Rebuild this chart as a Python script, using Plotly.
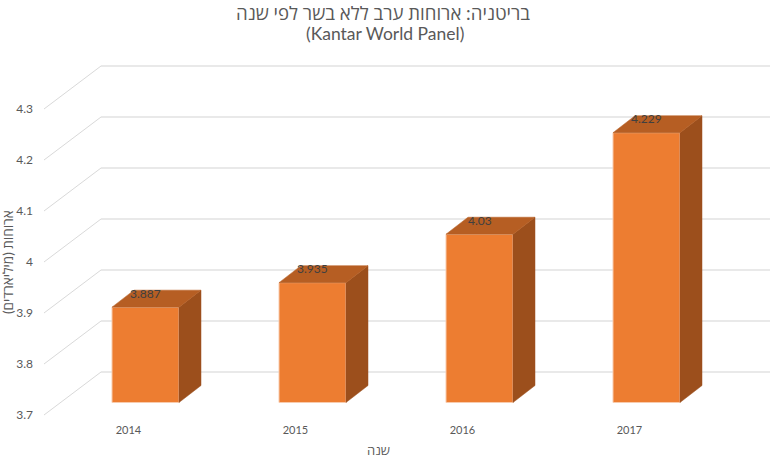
import plotly.graph_objects as go

years = [2014, 2015, 2016, 2017]
values = [3.887, 3.935, 4.03, 4.229]
value_labels = ["3.887", "3.935", "4.03", "4.229"]
y_ticks = [3.7, 3.8, 3.9, 4.0, 4.1, 4.2, 4.3]
y_tick_labels = ["3.7", "3.8", "3.9", "4", "4.1", "4.2", "4.3"]
title_lines = ["בריטניה: ארוחות ערב ללא בשר לפי שנה", "(Kantar World Panel)"]
x_title = "שנה"
y_title = "ארוחות (מיליארדים)"

W, H = 770, 464
L, T, B = 34, 50, 420
PX_X = 167.0      # px per year
PX_Y = 510.0      # px per value unit
X0 = 145.5        # px of first bar centre
Y0 = 402.5        # px of value 3.7
BASE = 3.7
FONT = "Lato, Open Sans, Liberation Sans, sans-serif"
GREY = "#595959"

def xv(px):
    return years[0] + (px - X0) / PX_X
def yv(px):
    return BASE + (Y0 - px) / PX_Y

bar_w = 67 / PX_X
dx, dy = 22 / PX_X, 17 / PX_Y

fig = go.Figure()
fig.add_trace(go.Bar(x=years, y=[v - BASE for v in values], base=BASE, width=bar_w,
                     marker=dict(color="#ED7D31", line=dict(color="#F8CBAD", width=1)),
                     hoverinfo="skip", showlegend=False))

for yr, v in zip(years, values):
    r = yr + bar_w / 2
    l = yr - bar_w / 2
    fig.add_trace(go.Scatter(x=[r, r + dx, r + dx, r, r], y=[BASE, BASE + dy, v + dy, v, BASE],
                             mode="lines", fill="toself", fillcolor="#9C4F1C",
                             line=dict(color="#9C4F1C", width=0.5), hoverinfo="skip", showlegend=False))
    fig.add_trace(go.Scatter(x=[l, l + dx, r + dx, r, l], y=[v, v + dy, v + dy, v, v],
                             mode="lines", fill="toself", fillcolor="#B65E23",
                             line=dict(color="#B65E23", width=0.5), hoverinfo="skip", showlegend=False))

shapes = []
back_off = yv(372) - BASE
front_off = yv(415) - BASE
x_front, x_back, x_right = xv(44), xv(101), xv(W)
for t in y_ticks:
    shapes.append(dict(type="line", layer="below", xref="x", yref="y", x0=x_front, x1=x_back,
                       y0=t + front_off, y1=t + back_off, line=dict(color="#D9D9D9", width=1)))
    shapes.append(dict(type="line", layer="below", xref="x", yref="y", x0=x_back, x1=x_right,
                       y0=t + back_off, y1=t + back_off, line=dict(color="#E2E2E2", width=1.5)))

annotations = []
for yr, v, s in zip(years, values, value_labels):
    annotations.append(dict(x=yr, y=v, xref="x", yref="y", text=s, showarrow=False, xshift=0, yshift=14,
                            font=dict(family=FONT, size=12, color="#404040")))
def paper_x(px):
    return (px - L) / (W - L)
def paper_y(px):
    return (B - px) / (B - T)
def free_text(text, px, py, size, **kw):
    return dict(x=paper_x(px), y=paper_y(py), xref="paper", yref="paper", text=text, showarrow=False,
                xanchor="center", yanchor="middle",
                font=dict(family=FONT, size=size, color=GREY), **kw)
annotations += [
    free_text(title_lines[0], 383, 13, 18.6),
    free_text(title_lines[1], 385, 33, 17.5),
    free_text(x_title, 378, 450, 13),
    free_text(y_title, 8, 262, 13.5, textangle=-90),
]

fig.update_layout(
    width=W, height=H, autosize=False,
    margin=dict(l=L, r=0, t=T, b=H - B, pad=0),
    paper_bgcolor="white", plot_bgcolor="white",
    showlegend=False, shapes=shapes, annotations=annotations,
    xaxis=dict(range=[xv(L), xv(W)], tickvals=years, ticktext=[str(y) for y in years],
               showgrid=False, zeroline=False, showline=False, ticks="", ticklabelshift=-17,
               ticklabelstandoff=2, tickfont=dict(family=FONT, size=11, color=GREY)),
    yaxis=dict(range=[yv(B), yv(T)], tickvals=y_ticks, ticktext=y_tick_labels,
               showgrid=False, zeroline=False, showline=False, ticks="", ticklabelshift=12,
               tickfont=dict(family=FONT, size=12, color=GREY)),
)
fig.write_html("out.html", config={"displayModeBar": False},
               post_script="document.body.style.margin='0';document.documentElement.style.overflow='hidden';")
